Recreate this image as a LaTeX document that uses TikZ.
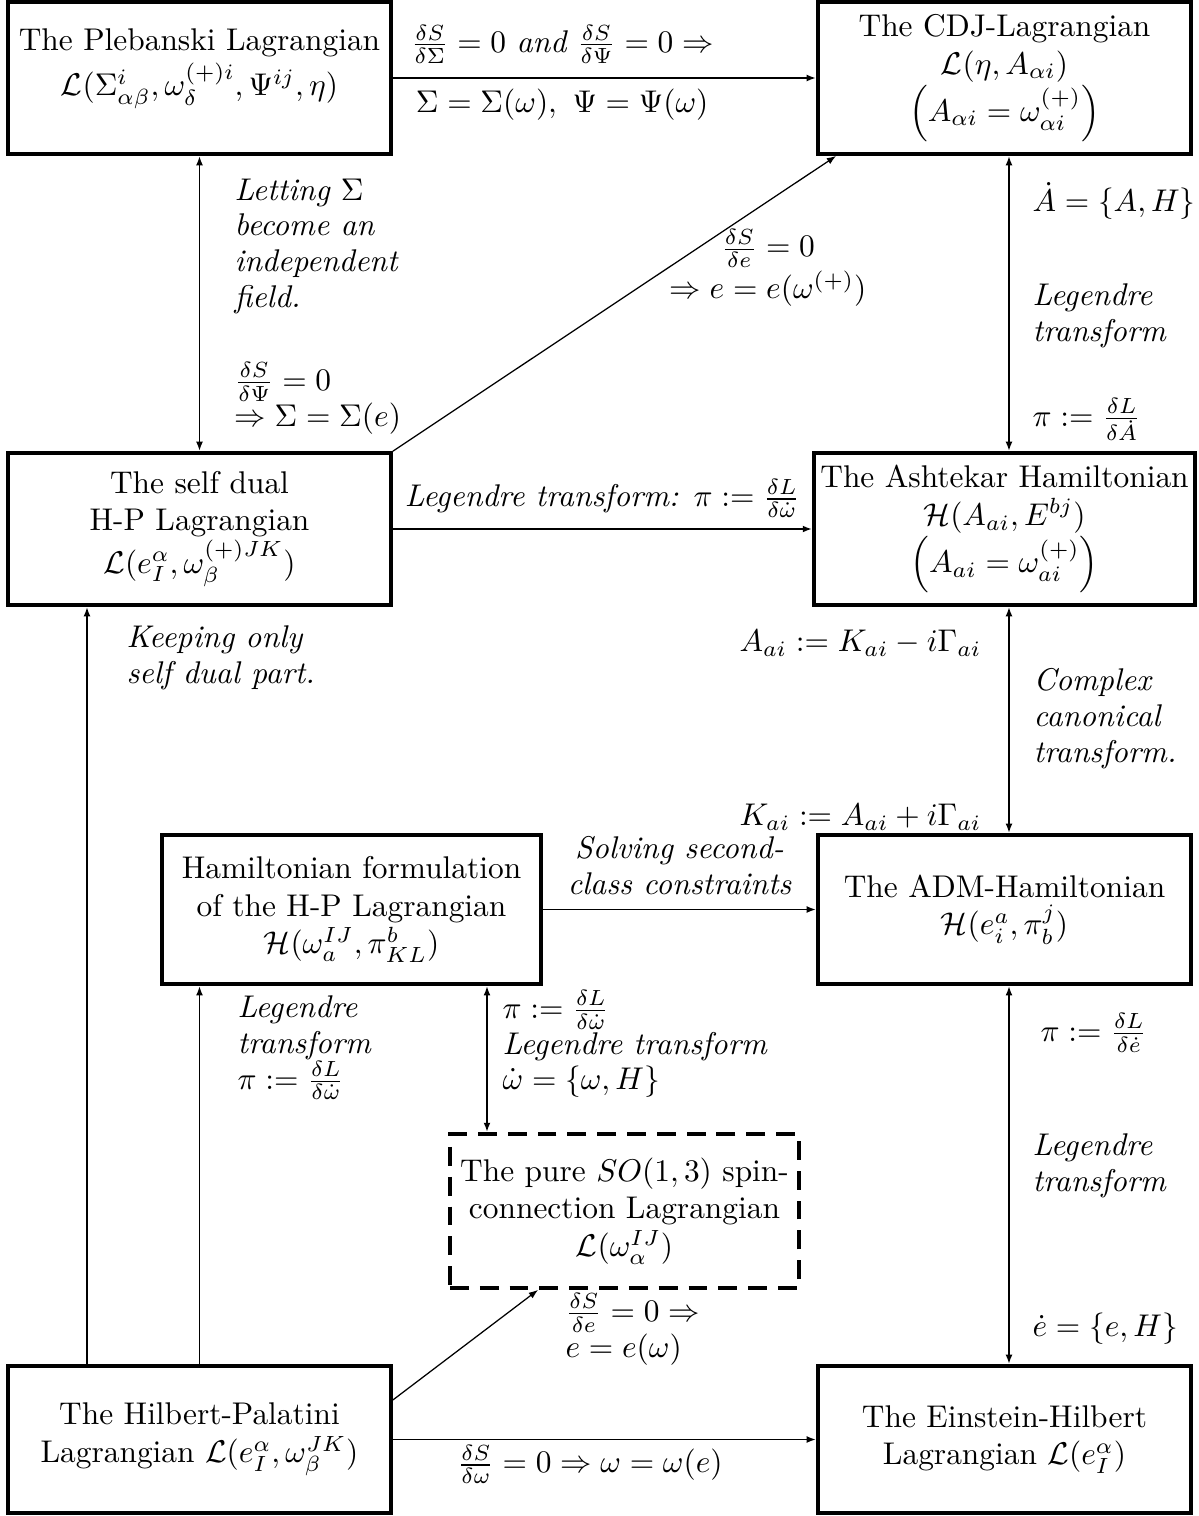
\documentclass[tikz,border=0pt]{standalone}
\usetikzlibrary{arrows.meta}

\begin{document}
\begin{tikzpicture}[x=0.3185pt,y=-0.3185pt,
    >={Latex[length=3pt,width=2.2pt]},
    box/.style={draw,very thick,align=center,inner sep=2pt},
    dbox/.style={box,dash pattern=on 6pt off 3.5pt},
    link/.style={semithick},
    slant/.style={thin},
    note/.style={inner sep=0pt,anchor=north west,align=left,
      font=\itshape\linespread{0.95}\selectfont}]
  \useasboundingbox (0,0) rectangle (1199,1516);

  % the boxes
  \node[box,minimum width=122pt,minimum height=48.4pt] (pleb) at (199.5,78)
    {The Plebanski Lagrangian\\[1pt] $\mathcal{L}(\Sigma^i_{\alpha\beta},\omega^{(+)i}_{\delta},\Psi^{ij},\eta)$\\[-2pt]\mbox{}};
  \node[box,minimum width=118.8pt,minimum height=48.4pt] (cdj) at (1004.5,78)
    {The CDJ-Lagrangian\\ $\mathcal{L}(\eta,A_{\alpha i})$\\ $\left(A_{\alpha i}=\omega^{(+)}_{\alpha i}\right)$};
  \node[box,minimum width=122pt,minimum height=48.4pt] (sd) at (199.5,529)
    {The self dual\\ H-P Lagrangian\\ $\mathcal{L}(e^{\alpha}_{I},\omega^{(+)JK}_{\beta})$};
  \node[box,minimum width=118.8pt,minimum height=48.4pt] (ash) at (1004.5,529)
    {The Ashtekar Hamiltonian\\ $\mathcal{H}(A_{ai},E^{bj})$\\ $\left(A_{ai}=\omega^{(+)}_{ai}\right)$};
  \node[box,minimum width=120.7pt,minimum height=47.5pt] (ham) at (351.5,909.5)
    {Hamiltonian formulation\\ of the H-P Lagrangian\\ $\mathcal{H}(\omega^{IJ}_{a},\pi^{b}_{KL})$};
  \node[box,minimum width=118.8pt,minimum height=47.5pt] (adm) at (1004.5,909.5)
    {The ADM-Hamiltonian\\ $\mathcal{H}(e^{a}_{i},\pi^{j}_{b})$};
  \node[dbox,minimum width=111.2pt,minimum height=49pt] (pure) at (624.5,1211)
    {The pure $SO(1,3)$ spin-\\ connection Lagrangian\\ $\mathcal{L}(\omega^{IJ}_{\alpha})$};
  \node[box,minimum width=122pt,minimum height=46.8pt] (hp) at (199.5,1439.5)
    {The Hilbert-Palatini\\ Lagrangian $\mathcal{L}(e^{\alpha}_{I},\omega^{JK}_{\beta})$};
  \node[box,minimum width=118.8pt,minimum height=46.8pt] (eh) at (1004.5,1439.5)
    {The Einstein-Hilbert\\ Lagrangian $\mathcal{L}(e^{\alpha}_{I})$};

  \coordinate (lx) at (87,0);
  \coordinate (mx) at (487,0);
  \coordinate (rx) at (1009,0);

  % top row
  \draw[link,->] (pleb) -- (cdj)
    node[pos=0.4,above=1pt] {$\frac{\delta S}{\delta\Sigma}=0\ \textit{and}\ \frac{\delta S}{\delta\Psi}=0\Rightarrow$}
    node[pos=0.4,below] {$\Sigma=\Sigma(\omega),\ \Psi=\Psi(\omega)$};
  \draw[link,<->] (pleb) -- (sd);
  \node[note] (nlet) at (234,178) {Letting $\Sigma$\\ become an\\ independent\\ field.};
  \node[note] (npsi) at (234,362) {$\frac{\delta S}{\delta\Psi}=0$\\ $\Rightarrow\Sigma=\Sigma(e)$};
  \draw[slant,->] (sd.north east) -- ([xshift=6.4pt]cdj.south west);
  \node[align=center] (nde) at (768,268) {$\frac{\delta S}{\delta e}=0$\\ $\Rightarrow e=e(\omega^{(+)})$};
  \draw[link,<->] (cdj.south -| rx) -- (ash.north -| rx);
  \node[note] (nadot) at (1032,182) {$\dot{A}=\{A,H\}$};
  \node[note] (nleg1) at (1032,283) {Legendre\\ transform};
  \node[note] (npia) at (1032,398) {$\pi:=\frac{\delta L}{\delta\dot{A}}$};

  % middle
  \draw[link,->] (sd) -- (ash)
    node[midway,above] {\itshape Legendre transform: $\pi:=\frac{\delta L}{\delta\dot{\omega}}$};
  \draw[link,<->] (ash.south -| rx) -- (adm.north -| rx);
  \node[note,anchor=east] (nak) at (982,643) {$A_{ai}:=K_{ai}-i\Gamma_{ai}$};
  \node[note] (ncan) at (1033,668) {Complex\\ canonical\\ transform.};
  \node[note,anchor=east] (nka) at (982,817) {$K_{ai}:=A_{ai}+i\Gamma_{ai}$};
  \draw[link,->] (hp.north -| lx) -- (sd.south -| lx);
  \node[note] (nkeep) at (126,625) {Keeping only\\ self dual part.};
  \draw[link,->] (ham) -- (adm)
    node[midway,above=1pt,align=center,font=\itshape\linespread{0.95}\selectfont] {Solving second-\\ class constraints};

  % bottom
  \draw[link,->] (hp.north) -- (hp.north |- ham.south);
  \node[note] (nleg2) at (237,995) {Legendre\\ transform\\ $\pi:=\frac{\delta L}{\delta\dot{\omega}}$};
  \draw[link,<->] (ham.south -| mx) -- (pure.north -| mx);
  \node[note] (nleg3) at (502,990) {$\pi:=\frac{\delta L}{\delta\dot{\omega}}$\\ Legendre transform\\ $\dot{\omega}=\{\omega,H\}$};
  \draw[slant,->] ([yshift=12.6pt]hp.east) -- ([xshift=28.7pt]pure.south west);
  \node[note] (nee) at (565,1293) {$\frac{\delta S}{\delta e}=0\Rightarrow$\\ $e=e(\omega)$};
  \draw[link,->] (hp) -- (eh)
    node[pos=0.466,below,inner sep=1.5pt] {$\frac{\delta S}{\delta\omega}=0\Rightarrow\omega=\omega(e)$};
  \draw[link,<->] (adm.south -| rx) -- (eh.north -| rx);
  \node[note] (npie) at (1040,1013) {$\pi:=\frac{\delta L}{\delta\dot{e}}$};
  \node[note] (nleg4) at (1032,1133) {Legendre\\ transform};
  \node[note] (nedot) at (1032,1312) {$\dot{e}=\{e,H\}$};
\end{tikzpicture}
\end{document}
